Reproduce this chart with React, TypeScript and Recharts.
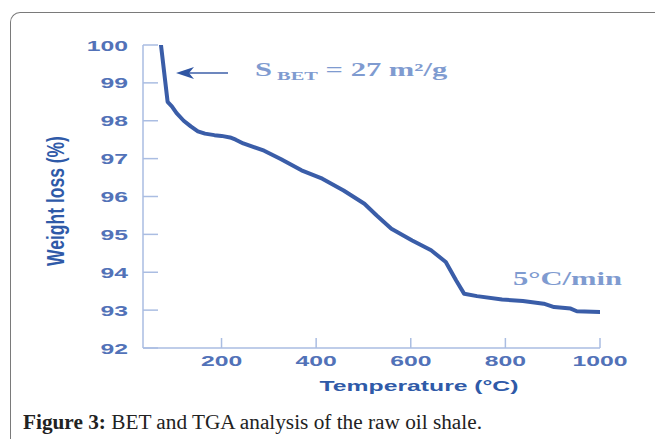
import React from "react";
import { LineChart, Line, XAxis, YAxis } from "recharts";

const temperature = [72, 86, 95, 105, 120, 135, 150, 165, 185, 200, 218, 230, 246, 290, 325, 369, 413, 458, 502, 528, 559, 603, 643, 674, 696, 713, 740, 793, 837, 881, 903, 938, 951, 1000];
const weight = [100, 98.5, 98.38, 98.2, 98.0, 97.85, 97.72, 97.66, 97.62, 97.6, 97.56, 97.5, 97.4, 97.21, 96.99, 96.69, 96.47, 96.16, 95.81, 95.5, 95.15, 94.84, 94.58, 94.27, 93.78, 93.43, 93.37, 93.28, 93.24, 93.17, 93.08, 93.04, 92.97, 92.95];
const xTicks = [200, 400, 600, 800, 1000];
const yTicks = [92, 93, 94, 95, 96, 97, 98, 99, 100];

const data = temperature.map((t, i) => ({ t, w: weight[i] }));

const AXIS = "#aabde2";
const TICK = "#5272b8";
const TITLE = "#2f5aa8";
const LINE = "#3a5da8";
const NOTE = "#7f9bd0";
const SANS = "'Liberation Sans', Arial, sans-serif";
const SERIF = "'Liberation Serif', 'Times New Roman', serif";

const YTick = (props: any) => {
  const { x, y, payload } = props;
  return (
    <g>
      <line x1={x} y1={y} x2={x + 15} y2={y} stroke={AXIS} strokeWidth={1.5} />
      <text transform={`translate(${x - 15},${y + 5.5}) scale(1.65,1)`} textAnchor="end" fill={TICK} fontSize={15} fontWeight="bold" fontFamily={SANS}>
        {payload.value}
      </text>
    </g>
  );
};

const XTick = (props: any) => {
  const { x, y, payload } = props;
  return (
    <g>
      <line x1={x} y1={y} x2={x} y2={y - 10} stroke={AXIS} strokeWidth={1.5} />
      <text transform={`translate(${x},${y + 18}) scale(1.65,1)`} textAnchor="middle" fill={TICK} fontSize={15} fontWeight="bold" fontFamily={SANS}>
        {payload.value}
      </text>
    </g>
  );
};

export default function App() {
  return (
    <div style={{ position: "absolute", left: 0, top: 0, width: 655, height: 439, overflow: "hidden", background: "#fff" }}>
      <div
        style={{
          position: "absolute",
          left: 10,
          top: 12,
          width: 700,
          height: 460,
          borderTop: "1.5px solid #7a7a7a",
          borderLeft: "1.5px solid #7a7a7a",
          borderTopLeftRadius: 10,
          boxSizing: "border-box",
        }}
      />
      <div style={{ position: "absolute", left: 0, top: 0 }}>
        <LineChart width={655} height={439} data={data} margin={{ top: 45, right: 55, bottom: 41, left: 43 }}>
          <XAxis
            dataKey="t"
            type="number"
            domain={[34, 1000]}
            ticks={xTicks}
            allowDataOverflow
            height={50}
            tickSize={0}
            tickMargin={0}
            tickLine={false}
            axisLine={{ stroke: AXIS, strokeWidth: 1.5 }}
            tick={<XTick />}
            interval={0}
          />
          <YAxis
            dataKey="w"
            type="number"
            domain={[92, 100]}
            ticks={yTicks}
            allowDataOverflow
            width={100}
            tickSize={0}
            tickMargin={0}
            tickLine={false}
            axisLine={{ stroke: AXIS, strokeWidth: 1.5 }}
            tick={<YTick />}
            interval={0}
          />
          <Line type="linear" dataKey="w" stroke={LINE} strokeWidth={4} dot={false} isAnimationActive={false} strokeLinejoin="round" strokeLinecap="round" />
        </LineChart>
      </div>
      <svg width={655} height={439} style={{ position: "absolute", left: 0, top: 0, pointerEvents: "none" }}>
        <defs>
          <marker id="ah" viewBox="0 0 10 10" refX="1" refY="5" markerWidth="7" markerHeight="6" orient="auto-start-reverse">
            <path d="M0,5 L10,0 L7,5 L10,10 Z" fill="#2f55a3" />
          </marker>
        </defs>
        <line x1={228} y1={73} x2={183} y2={73} stroke="#3d5fa8" strokeWidth={1.5} />
        <path d="M176,73 L194,67 L189,73 L194,79 Z" fill="#2f55a3" />
        <text transform="translate(255,76) scale(1.7,1)" fill={NOTE} fontFamily={SERIF} fontWeight="bold" fontSize={18}>
          S
          <tspan fontSize={12} dy={4}> BET</tspan>
          <tspan dy={-4}> = 27 m²/g</tspan>
        </text>
        <text transform="translate(513,285) scale(1.7,1)" fill={NOTE} fontFamily={SERIF} fontWeight="bold" fontSize={18}>
          5°C/min
        </text>
        <text transform="translate(419,391) scale(1.65,1)" textAnchor="middle" fill={TITLE} fontFamily={SANS} fontWeight="bold" fontSize={15}>
          Temperature<tspan dx={4}>(°C)</tspan>
        </text>
        <text transform="translate(56,201) rotate(-90) scale(1,1.35)" y={6} textAnchor="middle" fill={TITLE} fontFamily={SANS} fontWeight="bold" fontSize={17.5}>
          Weight loss (%)
        </text>
        <text x={23} y={429} fill="#222" fontFamily={SERIF} fontSize={20} textLength={459} lengthAdjust="spacingAndGlyphs">
          <tspan fontWeight="bold">Figure 3:</tspan> BET and TGA analysis of the raw oil shale.
        </text>
      </svg>
    </div>
  );
}
